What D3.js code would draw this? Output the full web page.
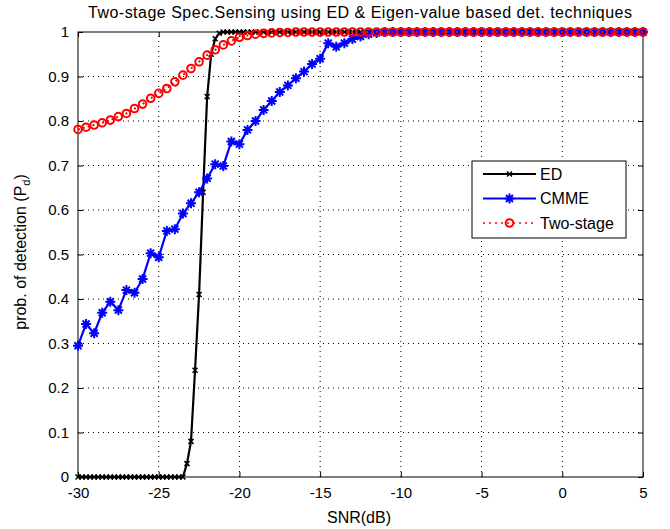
<!DOCTYPE html>
<html>
<head>
<meta charset="utf-8">
<script src="https://cdn.jsdelivr.net/npm/d3@7"></script>
<style>
  body { margin: 0; background: #fff; }
  text { font-family: "Liberation Sans", Arial, sans-serif; }
</style>
</head>
<body>
<div id="chart"></div>
<script>
const width = 670;
const height = 529;
const margin = { top: 32, right: 27, bottom: 52, left: 78 };

// SNR values (dB)
const snrHalf = d3.range(-30, 5.01, 0.5);
const snrQuarter = d3.range(-30, 5.01, 0.25);

// ED, sampled every 0.25 dB
const edValues = [
  0,0,0,0,0,0,0,0,0,0,0,0,0,0,0,0,0,0,0,0,0,0,0,0,0,0,0,
  0.03,0.08,0.24,0.41,0.64,0.855,0.95,0.985,0.997,1,
  1,1,1,1,1,1,1,1,1,1,1,1,1,1,1,1,1,1,1,1,1,1,1,1,1,1,1,1,1,1,1,1,1,1,1,1,1,1,1,
  1,1,1,1,1,1,1,1,1,1,1,1,1,1,1,1,1,1,1,1,1,1,1,1,1,1,1,1,1,1,1,1,1,1,1,1,1,1,1,1,
  1,1,1,1,1,1,1,1,1,1,1,1,1,1,1,1,1,1,1,1,1,1,1,1,1,1,1,1,1,1
];

// CMME, sampled every 0.5 dB
const cmmeValues = [
  0.295,0.344,0.323,0.369,0.394,0.375,0.42,0.414,0.445,0.503,0.494,0.553,0.557,0.592,0.615,
  0.64,0.671,0.703,0.699,0.754,0.748,0.78,0.80,0.825,0.845,0.865,0.88,0.896,0.911,0.928,
  0.94,0.975,0.967,0.975,0.984,0.99,0.995,0.998,1,1,1,1,1,1,1,1,1,1,1,1,1,1,1,1,1,
  1,1,1,1,1,1,1,1,1,1,1,1,1,1,1,1
];

// Two-stage, sampled every 0.5 dB
const twoStageValues = [
  0.781,0.786,0.791,0.796,0.802,0.81,0.817,0.828,0.838,0.851,0.862,0.873,0.888,0.903,0.918,
  0.933,0.948,0.96,0.971,0.98,0.988,0.992,0.995,0.997,0.998,0.999,0.999,1,1,1,1,1,1,1,1,1,
  1,1,1,1,1,1,1,1,1,1,1,1,1,1,1,1,1,1,1,1,1,1,1,1,1,1,1,1,1,1,1,1,1,1,1
];

const xTicks = [-30, -25, -20, -15, -10, -5, 0, 5];
const yTicks = [0, 0.1, 0.2, 0.3, 0.4, 0.5, 0.6, 0.7, 0.8, 0.9, 1];
const legendLabels = ["ED", "CMME", "Two-stage"];

const svg = d3.select("#chart")
  .append("svg")
  .attr("width", width)
  .attr("height", height);

const x = d3.scaleLinear()
  .domain([-30, 5])
  .range([margin.left, width - margin.right]);

const y = d3.scaleLinear()
  .domain([0, 1])
  .range([height - margin.bottom, margin.top]);

// dotted grid
svg.append("g")
  .selectAll("line")
  .data(xTicks.slice(1, -1))
  .join("line")
  .attr("x1", d => x(d)).attr("x2", d => x(d))
  .attr("y1", y(0)).attr("y2", y(1))
  .attr("stroke", "#000")
  .attr("stroke-width", 1)
  .attr("stroke-dasharray", "1,4");

svg.append("g")
  .selectAll("line")
  .data(yTicks.slice(1, -1))
  .join("line")
  .attr("x1", x(-30)).attr("x2", x(5))
  .attr("y1", d => y(d)).attr("y2", d => y(d))
  .attr("stroke", "#000")
  .attr("stroke-width", 1)
  .attr("stroke-dasharray", "1,4");

// axes, ticks inward
const axisStyle = g => {
  g.select(".domain").remove();
  g.selectAll("line").attr("stroke", "#000");
  g.selectAll("text").attr("font-size", "15px").attr("fill", "#000");
};

svg.append("g")
  .attr("transform", `translate(0,${y(0)})`)
  .call(d3.axisBottom(x).tickValues(xTicks).tickSizeInner(-5).tickSizeOuter(0).tickPadding(10)
    .tickFormat(d => String(d)))
  .call(axisStyle);

svg.append("g")
  .attr("transform", `translate(0,${y(1)})`)
  .call(d3.axisTop(x).tickValues(xTicks).tickSizeInner(-5).tickSizeOuter(0).tickFormat(""))
  .call(axisStyle);

svg.append("g")
  .attr("transform", `translate(${x(-30)},0)`)
  .call(d3.axisLeft(y).tickValues(yTicks).tickSizeInner(-5).tickSizeOuter(0).tickPadding(9)
    .tickFormat(d => String(d)))
  .call(axisStyle);

svg.append("g")
  .attr("transform", `translate(${x(5)},0)`)
  .call(d3.axisRight(y).tickValues(yTicks).tickSizeInner(-5).tickSizeOuter(0).tickFormat(""))
  .call(axisStyle);

// frame
svg.append("rect")
  .attr("x", x(-30)).attr("y", y(1))
  .attr("width", x(5) - x(-30)).attr("height", y(0) - y(1))
  .attr("fill", "none")
  .attr("stroke", "#000")
  .attr("stroke-width", 1);

const line = d3.line().x(d => x(d[0])).y(d => y(d[1]));

const edData = snrQuarter.map((s, i) => [s, edValues[i]]);
const cmmeData = snrHalf.map((s, i) => [s, cmmeValues[i]]);
const twoData = snrHalf.map((s, i) => [s, twoStageValues[i]]);

const crossPath = s => `M${-s},${-s}L${s},${s}M${-s},${s}L${s},${-s}`;
const starPath = s => `M${-s},0L${s},0M0,${-s}L0,${s}` +
  `M${-s * 0.7},${-s * 0.7}L${s * 0.7},${s * 0.7}M${-s * 0.7},${s * 0.7}L${s * 0.7},${-s * 0.7}`;

// ED
svg.append("path")
  .datum(edData)
  .attr("fill", "none")
  .attr("stroke", "#000")
  .attr("stroke-width", 2.2)
  .attr("d", line);

svg.append("g")
  .selectAll("path")
  .data(edData)
  .join("path")
  .attr("transform", d => `translate(${x(d[0])},${y(d[1])})`)
  .attr("d", crossPath(2.5))
  .attr("stroke", "#000")
  .attr("stroke-width", 1.5);

// CMME
svg.append("path")
  .datum(cmmeData)
  .attr("fill", "none")
  .attr("stroke", "#0000ff")
  .attr("stroke-width", 2.2)
  .attr("d", line);

svg.append("g")
  .selectAll("path")
  .data(cmmeData)
  .join("path")
  .attr("transform", d => `translate(${x(d[0])},${y(d[1])})`)
  .attr("d", starPath(5))
  .attr("stroke", "#0000ff")
  .attr("stroke-width", 2);

// Two-stage
svg.append("path")
  .datum(twoData)
  .attr("fill", "none")
  .attr("stroke", "#ff0000")
  .attr("stroke-width", 2)
  .attr("stroke-dasharray", "2,3")
  .attr("d", line);

svg.append("g")
  .selectAll("circle")
  .data(twoData)
  .join("circle")
  .attr("cx", d => x(d[0]))
  .attr("cy", d => y(d[1]))
  .attr("r", 3.8)
  .attr("fill", "none")
  .attr("stroke", "#ff0000")
  .attr("stroke-width", 2);

// title and axis labels
svg.append("text")
  .attr("x", 360)
  .attr("y", 18)
  .attr("text-anchor", "middle")
  .attr("font-size", "16px")
  .attr("textLength", 544)
  .text("Two-stage Spec.Sensing using ED & Eigen-value based det. techniques");

svg.append("text")
  .attr("x", 359)
  .attr("y", 523)
  .attr("text-anchor", "middle")
  .attr("font-size", "16px")
  .text("SNR(dB)");

const yLabel = svg.append("text")
  .attr("transform", `translate(26,252) rotate(-90)`)
  .attr("text-anchor", "middle")
  .attr("font-size", "16px");
yLabel.append("tspan").text("prob. of detection (P");
yLabel.append("tspan").attr("dy", 4).attr("font-size", "11px").text("d");
yLabel.append("tspan").attr("dy", -4).text(")");

// legend
const legend = svg.append("g").attr("transform", "translate(472,161)");
legend.append("rect")
  .attr("width", 154).attr("height", 77)
  .attr("fill", "#fff").attr("stroke", "#000").attr("stroke-width", 1);

const legendItems = legend.selectAll(".item")
  .data(legendLabels)
  .join("g")
  .attr("class", "item")
  .attr("transform", (d, i) => `translate(0,${13 + i * 24.5})`);

legendItems.append("line")
  .attr("x1", 11).attr("x2", 64)
  .attr("stroke", (d, i) => ["#000", "#0000ff", "#ff0000"][i])
  .attr("stroke-width", (d, i) => i === 2 ? 1.5 : 2.2)
  .attr("stroke-dasharray", (d, i) => i === 2 ? "2,4" : null);

legendItems.filter((d, i) => i === 0).append("path")
  .attr("transform", "translate(37.5,0)")
  .attr("d", crossPath(2.5)).attr("stroke", "#000").attr("stroke-width", 1.5);
legendItems.filter((d, i) => i === 1).append("path")
  .attr("transform", "translate(37.5,0)")
  .attr("d", starPath(5)).attr("stroke", "#0000ff").attr("stroke-width", 2);
legendItems.filter((d, i) => i === 2).append("circle")
  .attr("cx", 37.5).attr("r", 3.8)
  .attr("fill", "none").attr("stroke", "#ff0000").attr("stroke-width", 2);

legendItems.append("text")
  .attr("x", 68)
  .attr("dy", "0.36em")
  .attr("font-size", "16px")
  .text(d => d);
</script>
</body>
</html>
